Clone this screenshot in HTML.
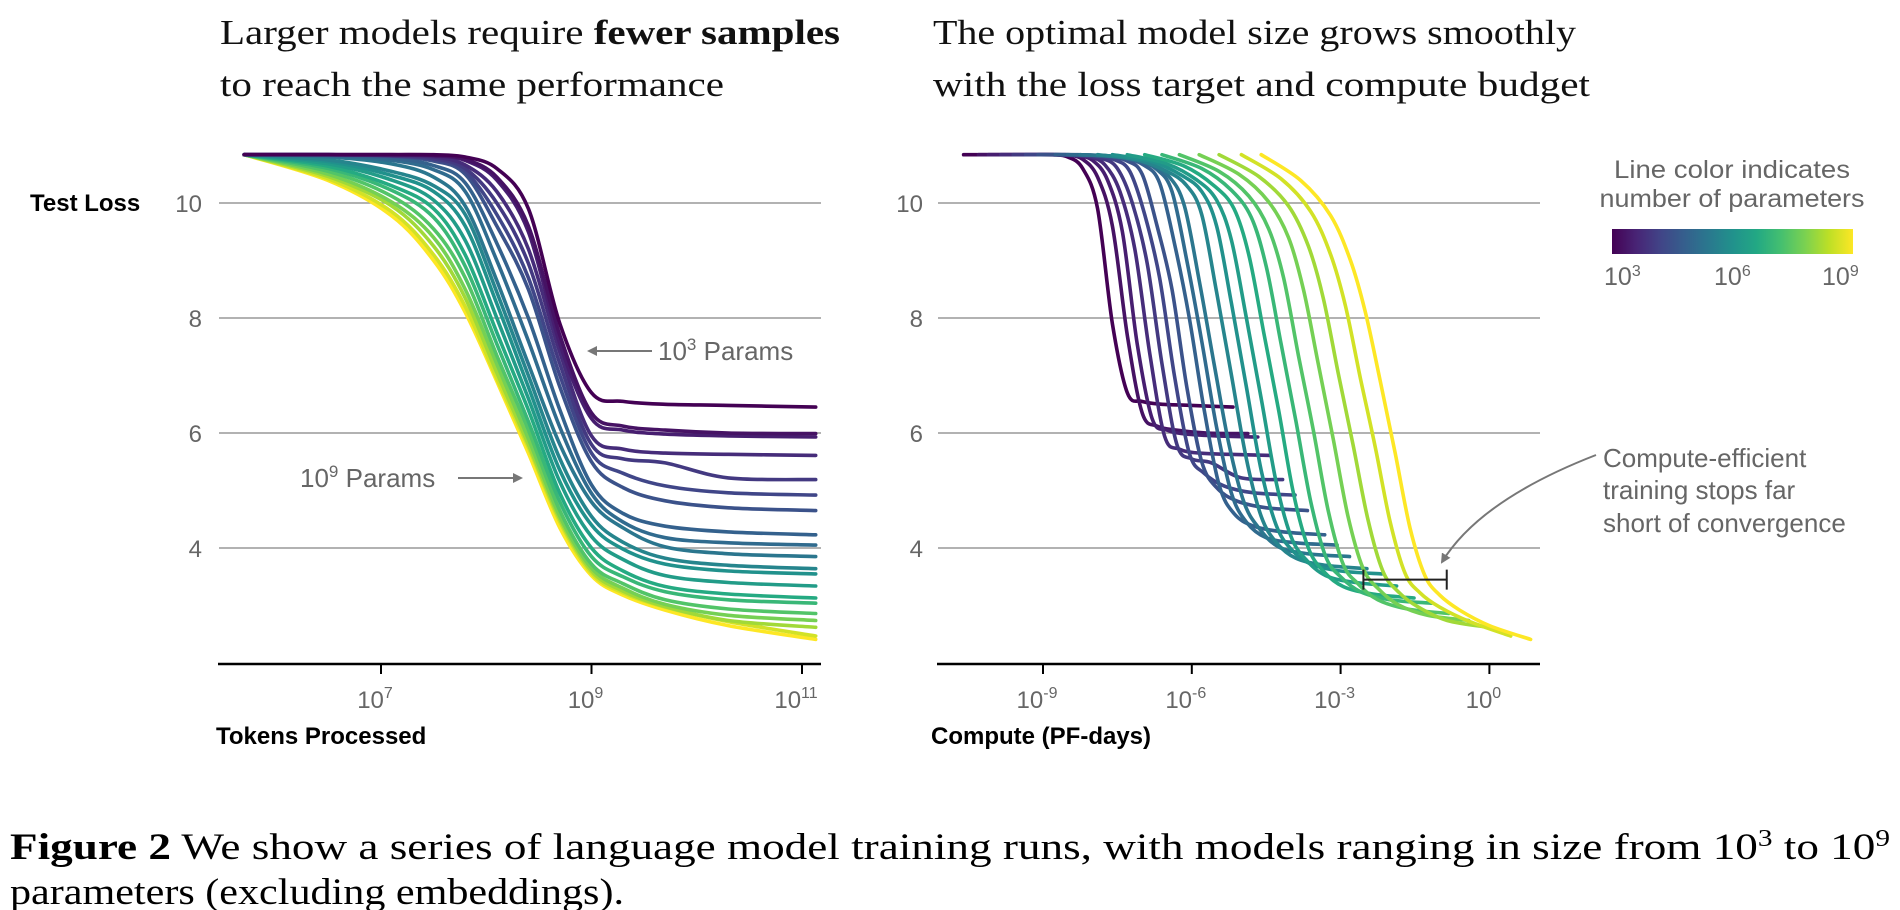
<!DOCTYPE html>
<html><head><meta charset="utf-8"><title>Figure 2</title>
<style>
html,body{margin:0;padding:0;background:#fff;}
svg{display:block;}
.tick{font-family:"Liberation Sans",sans-serif;font-size:24px;fill:#666;}
.leg{font-family:"Liberation Sans",sans-serif;font-size:25px;fill:#666;}
.ann{font-family:"Liberation Sans",sans-serif;font-size:26px;fill:#666;}
.ttl{font-family:"Liberation Serif",serif;font-size:35px;fill:#111;}
.cap{font-family:"Liberation Serif",serif;font-size:37px;fill:#000;}
.axt{font-family:"Liberation Sans",sans-serif;font-size:24px;font-weight:bold;fill:#000;}
</style></head>
<body>
<svg id="fig" width="1900" height="910" viewBox="0 0 1900 910" xmlns="http://www.w3.org/2000/svg">
<defs>
<linearGradient id="vir" x1="0" x2="1" y1="0" y2="0">
<stop offset="0" stop-color="#440154"/><stop offset="0.1" stop-color="#482475"/><stop offset="0.2" stop-color="#414487"/><stop offset="0.3" stop-color="#355f8d"/><stop offset="0.4" stop-color="#2a788e"/><stop offset="0.5" stop-color="#21918c"/><stop offset="0.6" stop-color="#22a884"/><stop offset="0.7" stop-color="#44bf70"/><stop offset="0.8" stop-color="#7ad151"/><stop offset="0.9" stop-color="#bddf26"/><stop offset="1" stop-color="#fde725"/>
</linearGradient>
<marker id="arr" markerWidth="10" markerHeight="10" refX="8" refY="5" orient="auto" markerUnits="userSpaceOnUse"><path d="M0,0 L10,5 L0,10 z" fill="#777"/></marker>
</defs>

<text class="ttl" x="220" y="44" textLength="620" lengthAdjust="spacingAndGlyphs">Larger models require <tspan font-weight="bold">fewer samples</tspan></text>
<text class="ttl" x="220" y="96" textLength="504" lengthAdjust="spacingAndGlyphs">to reach the same performance</text>
<text class="ttl" x="933" y="44" textLength="643" lengthAdjust="spacingAndGlyphs">The optimal model size grows smoothly</text>
<text class="ttl" x="933" y="96" textLength="657" lengthAdjust="spacingAndGlyphs">with the loss target and compute budget</text>

<g id="leftGrid"></g>
<g id="rightGrid"></g>
<g id="leftCurves"></g>
<g id="rightCurves"></g>
<g id="leftAxis"></g>
<g id="rightAxis"></g>

<text class="axt" x="30" y="211">Test Loss</text>
<text class="axt" x="216" y="744">Tokens Processed</text>
<text class="axt" x="931" y="744">Compute (PF-days)</text>

<g>
<line x1="652" y1="351" x2="589" y2="351" stroke="#777" stroke-width="2" marker-end="url(#arr)"/>
<text class="ann" x="658" y="360">10<tspan font-size="17" dy="-10">3</tspan><tspan dy="10"> Params</tspan></text>
</g>
<g>
<line x1="458" y1="478" x2="521" y2="478" stroke="#777" stroke-width="2" marker-end="url(#arr)"/>
<text class="ann" x="300" y="487">10<tspan font-size="17" dy="-10">9</tspan><tspan dy="10"> Params</tspan></text>
</g>

<g id="bracket"></g>
<g>
<path d="M1596,455 Q1480,500 1442,562" fill="none" stroke="#777" stroke-width="2" marker-end="url(#arr)"/>
<text class="ann" x="1603" y="467">Compute-efficient</text>
<text class="ann" x="1603" y="499">training stops far</text>
<text class="ann" x="1603" y="532">short of convergence</text>
</g>

<g>
<text class="leg" x="1732" y="178" text-anchor="middle" textLength="236" lengthAdjust="spacingAndGlyphs">Line color indicates</text>
<text class="leg" x="1732" y="207" text-anchor="middle" textLength="265" lengthAdjust="spacingAndGlyphs">number of parameters</text>
<rect x="1612" y="229" width="241" height="25" fill="url(#vir)"/>
<text class="leg" x="1604" y="285">10<tspan font-size="16" dy="-9">3</tspan></text>
<text class="leg" x="1714" y="285">10<tspan font-size="16" dy="-9">6</tspan></text>
<text class="leg" x="1822" y="285">10<tspan font-size="16" dy="-9">9</tspan></text>
</g>

<text class="cap" x="10" y="859" textLength="1880" lengthAdjust="spacingAndGlyphs"><tspan font-weight="bold">Figure 2</tspan>    We show a series of language model training runs, with models ranging in size from 10<tspan font-size="24" dy="-13">3</tspan><tspan dy="13"> to 10</tspan><tspan font-size="24" dy="-13">9</tspan></text>
<text class="cap" x="10" y="904" textLength="614" lengthAdjust="spacingAndGlyphs">parameters (excluding embeddings).</text>
</svg>
<script>
// shared x grid (log10 tokens processed)
const tokensLog = [5.7,6.5,7.1,7.5,7.8,8.1,8.4,8.7,9.0,9.3,9.7,10.3,11.13];
// log10 parameter count per run
const paramsLog = [3.0,3.3,3.5,3.75,4.0,4.25,4.5,4.85,5.1,5.35,5.7,6.0,6.3,6.65,7.0,7.35,7.75,8.15,8.6,9.0];
// test loss per run at tokensLog
const c0=[10.84,10.84,10.84,10.84,10.80,10.6,9.9,7.9,6.70,6.55,6.50,6.48,6.45];
const c1=[10.84,10.84,10.84,10.83,10.76,10.45,9.6,7.7,6.35,6.12,6.05,6.0,5.99];
const c2=[10.84,10.84,10.84,10.82,10.74,10.4,9.5,7.55,6.25,6.05,5.98,5.95,5.93];
const c3=[10.84,10.84,10.83,10.80,10.66,10.2,9.2,7.4,5.95,5.72,5.65,5.63,5.61];
const c4=[10.84,10.84,10.82,10.77,10.6,10.0,8.95,7.2,5.8,5.55,5.48,5.22,5.19];
const c5=[10.84,10.84,10.82,10.75,10.55,9.8,8.7,7.0,5.65,5.3,5.08,4.96,4.92];
const c6=[10.84,10.84,10.81,10.73,10.5,9.6,8.5,6.8,5.5,5.05,4.82,4.7,4.65];
const c7=[10.84,10.83,10.78,10.65,10.35,9.3,8.0,6.4,5.1,4.6,4.38,4.28,4.23];
const c8=[10.84,10.82,10.74,10.58,10.2,9.0,7.6,6.1,4.95,4.45,4.18,4.09,4.05];
const c9=[10.84,10.80,10.68,10.45,9.95,8.65,7.2,5.8,4.8,4.35,4.02,3.9,3.85];
const c10=[10.84,10.75,10.55,10.3,9.8,8.45,7.0,5.55,4.55,4.1,3.82,3.7,3.64];
const c11=[10.84,10.72,10.48,10.2,9.6,8.25,6.8,5.35,4.4,3.98,3.72,3.6,3.55];
const c12=[10.84,10.68,10.4,10.05,9.35,8.0,6.6,5.15,4.2,3.8,3.52,3.4,3.34];
const c13=[10.84,10.64,10.3,9.9,9.1,7.75,6.4,4.95,4.0,3.6,3.33,3.2,3.13];
const c14=[10.84,10.6,10.22,9.75,8.9,7.55,6.2,4.8,3.85,3.5,3.24,3.1,3.04];
const c15=[10.84,10.55,10.12,9.55,8.7,7.35,6.05,4.65,3.72,3.38,3.1,2.94,2.86];
const c16=[10.84,10.5,10.02,9.4,8.5,7.2,5.9,4.55,3.65,3.3,3.02,2.83,2.74];
const c17=[10.84,10.46,9.95,9.25,8.35,7.05,5.8,4.5,3.6,3.25,2.98,2.74,2.62];
const c18=[10.84,10.42,9.85,9.1,8.2,6.95,5.75,4.45,3.56,3.22,2.97,2.72,2.47];
const c19=[10.84,10.39,9.78,9.0,8.1,6.9,5.65,4.35,3.52,3.18,2.92,2.65,2.41];
const runs=[c0,c1,c2,c3,c4,c5,c6,c7,c8,c9,c10,c11,c12,c13,c14,c15,c16,c17,c18,c19];
// compute (PF-days) = 6*N*D / 8.64e19  -> log offset
const computeOffset = -19.3;
const yTicks=[10,8,6,4];
const yTickLabels=["10","8","6","4"];
const leftTicks=[7,9,11];
const leftTickLabels=["7","9","11"];
const rightTicks=[-9,-6,-3,0];
const rightTickLabels=["-9","-6","-3","0"];
const bracketLoss=3.45, bracketFrom=-2.54, bracketTo=-0.86;

const NS="http://www.w3.org/2000/svg";
const xL=v=>381+(v-7)*105.25;
const xR=v=>1043+(v+9)*49.6;
const yS=v=>203+(10-v)*57.5;
const stops=["#440154","#482475","#414487","#355f8d","#2a788e","#21918c","#22a884","#44bf70","#7ad151","#bddf26","#fde725"];
function hex(h){return [1,3,5].map(i=>parseInt(h.substr(i,2),16));}
function vir(t){t=Math.max(0,Math.min(1,t));const f=t*10,i=Math.min(9,Math.floor(f)),r=f-i;const a=hex(stops[i]),b=hex(stops[i+1]);return "rgb("+a.map((c,k)=>Math.round(c+(b[k]-c)*r)).join(",")+")";}
function mk(tag,attrs,parent){const e=document.createElementNS(NS,tag);for(const k in attrs)e.setAttribute(k,attrs[k]);parent.appendChild(e);return e;}
function smooth(pts){let d="M"+pts[0][0].toFixed(1)+","+pts[0][1].toFixed(1);for(let i=0;i<pts.length-1;i++){const p0=pts[Math.max(0,i-1)],p1=pts[i],p2=pts[i+1],p3=pts[Math.min(pts.length-1,i+2)];const c1x=p1[0]+(p2[0]-p0[0])/6,c1y=p1[1]+(p2[1]-p0[1])/6,c2x=p2[0]-(p3[0]-p1[0])/6,c2y=p2[1]-(p3[1]-p1[1])/6;d+=" C"+c1x.toFixed(1)+","+c1y.toFixed(1)+" "+c2x.toFixed(1)+","+c2y.toFixed(1)+" "+p2[0].toFixed(1)+","+p2[1].toFixed(1);}return d;}

function grid(gid,x0,x1,lx){const g=document.getElementById(gid);
 yTicks.forEach((v,i)=>{
  const l=mk("line",{x1:x0,x2:x1,y1:yS(v),y2:yS(v),stroke:"#999","stroke-width":1.5},g);
  
  
  const t=mk("text",{x:lx,y:yS(v)+9,"text-anchor":"end",class:"tick"},g);t.textContent=yTickLabels[i];
  
  
 });}
grid("leftGrid",219,821,202);
grid("rightGrid",938,1540,923);

function axis(gid,x0,x1,ticks,labels,sx){const g=document.getElementById(gid);
 mk("line",{x1:x0,x2:x1,y1:664,y2:664,stroke:"#000","stroke-width":2.5},g);
 ticks.forEach((v,i)=>{mk("line",{x1:sx(v),x2:sx(v),y1:664,y2:674,stroke:"#000","stroke-width":2},g);
  const t=mk("text",{x:sx(v)-6,y:708,"text-anchor":"middle",class:"tick"},g);
  
  
  t.appendChild(document.createTextNode("10"));
  const s=mk("tspan",{"font-size":16,dy:-10},t);s.textContent=labels[i];});}
axis("leftAxis",218,821,leftTicks,leftTickLabels,xL);
axis("rightAxis",937,1540,rightTicks,rightTickLabels,xR);

const gl=document.getElementById("leftCurves"),gr=document.getElementById("rightCurves");
for(let r=runs.length-1;r>=0;r--){
 const col=vir((paramsLog[r]-3)/6);
 const pl=tokensLog.map((x,i)=>[xL(x),yS(runs[r][i])]);
 const p=mk("path",{d:smooth(pl),fill:"none",stroke:col,"stroke-width":3.6,"stroke-linejoin":"round","stroke-linecap":"round"},gl);
 
 
}
for(let r=0;r<runs.length;r++){
 const col=vir((paramsLog[r]-3)/6);
 const pr=tokensLog.map((x,i)=>[xR(x+paramsLog[r]+computeOffset),yS(runs[r][i])]);
 const p=mk("path",{d:smooth(pr),fill:"none",stroke:col,"stroke-width":3.6,"stroke-linejoin":"round","stroke-linecap":"round"},gr);
 
 
}
const gb=document.getElementById("bracket");
const by=yS(bracketLoss);
mk("line",{x1:xR(bracketFrom),x2:xR(bracketTo),y1:by,y2:by,stroke:"#222","stroke-width":2},gb);
mk("line",{x1:xR(bracketFrom),x2:xR(bracketFrom),y1:by-10,y2:by+10,stroke:"#222","stroke-width":2},gb);
mk("line",{x1:xR(bracketTo),x2:xR(bracketTo),y1:by-10,y2:by+10,stroke:"#222","stroke-width":2},gb);
</script>
</body></html>
